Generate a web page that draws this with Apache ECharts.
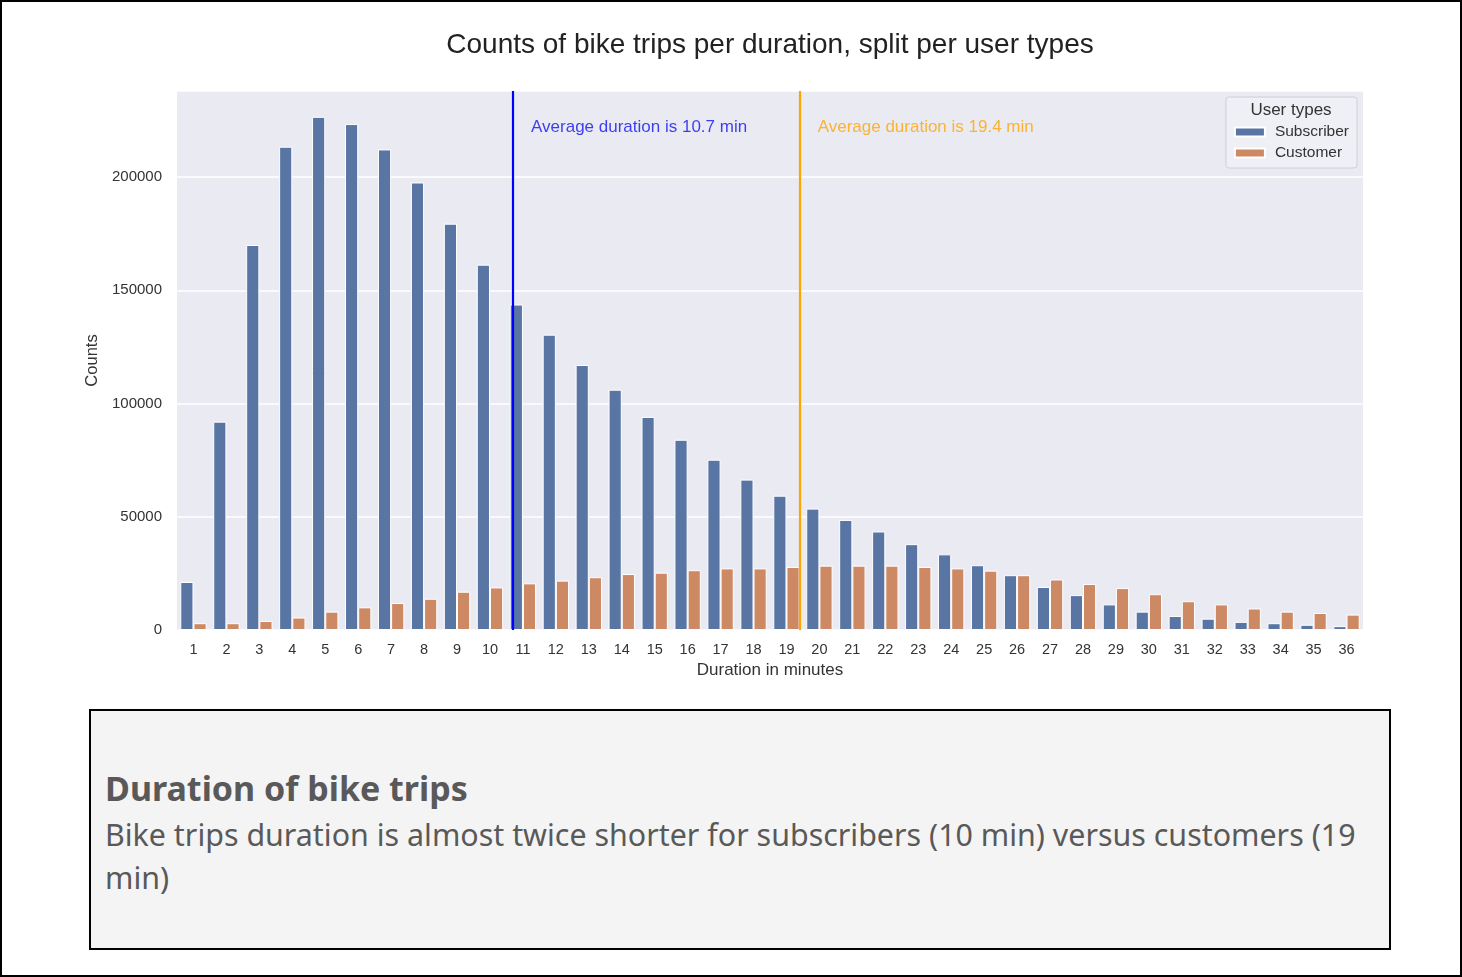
<!DOCTYPE html>
<html>
<head>
<meta charset="utf-8">
<script src="https://cdn.jsdelivr.net/npm/echarts@6/dist/echarts.min.js"></script>
<style>
  html, body { margin: 0; padding: 0; background: #fff; }
  #frame { position: absolute; left: 0; top: 0; width: 1458px; height: 973px; border: 2px solid #000; }
  #chart { position: absolute; left: 0; top: 0; width: 1462px; height: 977px; }
  #panel { position: absolute; left: 89px; top: 709px; width: 1298px; height: 237px; background: #f4f4f4; border: 2px solid #000; box-sizing: content-box; }
  #panel .h { position: absolute; left: 14px; top: 53px; font-family: "Noto Sans", "Open Sans", sans-serif; font-weight: bold; font-size: 34px; color: #595959; line-height: 48px; white-space: nowrap; }
  #panel .b { position: absolute; left: 14px; top: 102px; font-family: "Noto Sans", "Open Sans", sans-serif; font-size: 30.4px; color: #595959; line-height: 43px; white-space: nowrap; }
</style>
</head>
<body>
<div id="chart"></div>
<div id="frame"></div>
<div id="panel">
  <div class="h">Duration of bike trips</div>
  <div class="b">Bike trips duration is almost twice shorter for subscribers (10 min) versus customers (19<br>min)</div>
</div>
<script>
const durations = ['1','2','3','4','5','6','7','8','9','10','11','12','13','14','15','16','17','18','19','20','21','22','23','24','25','26','27','28','29','30','31','32','33','34','35','36'];
const subscriber = [21200, 92000, 170000, 213400, 226600, 223400, 212200, 197600, 179400, 161300, 143700, 130400, 117000, 106100, 94100, 84000, 75200, 66400, 59300, 53600, 48600, 43500, 37900, 33400, 28600, 24200, 19000, 15400, 11300, 8100, 6200, 5000, 3600, 3000, 2300, 1700];
const customer = [3000, 3000, 4000, 5500, 8100, 10000, 11900, 13800, 16900, 18800, 20600, 21800, 23300, 24700, 25300, 26400, 27200, 27200, 27800, 28400, 28400, 28400, 27800, 27200, 26200, 24200, 22300, 20300, 18500, 15800, 12700, 11300, 9500, 8100, 7500, 6800];
const avgSubscriber = 10.7;
const avgCustomer = 19.4;
const yTicks = [0, 50000, 100000, 150000, 200000];

const FONT = '"Liberation Sans", Arial, sans-serif';
const chart = echarts.init(document.getElementById('chart'));
chart.setOption({
  backgroundColor: 'transparent',
  animation: false,
  textStyle: { fontFamily: FONT },
  grid: { left: 177, right: 99, top: 91, bottom: 347, show: true, backgroundColor: '#eaeaf2', borderWidth: 0 },
  graphic: [
    { type: 'text', x: 770, y: 45, style: { text: 'Counts of bike trips per duration, split per user types', font: '28px ' + FONT, fill: '#222', textAlign: 'center', textVerticalAlign: 'middle' } },
    { type: 'text', x: 1291, y: 110, z: 100, style: { text: 'User types', font: '17px ' + FONT, fill: '#333', textAlign: 'center', textVerticalAlign: 'middle' } }
  ],
  legend: {
    data: ['Subscriber', 'Customer'],
    orient: 'vertical',
    right: 105,
    top: 97,
    padding: [27, 8, 7, 8],
    itemGap: 5,
    itemWidth: 30,
    itemHeight: 9,
    icon: 'rect',
    backgroundColor: 'rgba(240,240,246,0.9)',
    borderColor: '#cfcfd6',
    borderWidth: 1,
    borderRadius: 3,
    textStyle: { fontSize: 15.5, color: '#333', fontFamily: FONT, padding: [0, 0, 0, 5] }
  },
  xAxis: [
    {
      type: 'category',
      data: durations,
      axisLine: { show: false },
      axisTick: { show: false },
      axisLabel: { fontSize: 14.5, color: '#333', margin: 12 },
      name: 'Duration in minutes',
      nameLocation: 'middle',
      nameGap: 31,
      nameTextStyle: { fontSize: 17, color: '#333' }
    },
    { type: 'value', min: 0.5, max: 36.5, show: false }
  ],
  yAxis: {
    type: 'value',
    min: 0,
    max: 238000,
    interval: 50000,
    axisLine: { show: false },
    axisTick: { show: false },
    splitLine: { lineStyle: { color: '#ffffff', width: 1.5 } },
    axisLabel: { fontSize: 15, color: '#333', margin: 15, formatter: v => yTicks.indexOf(v) >= 0 ? String(v) : '' },
    name: 'Counts',
    nameLocation: 'middle',
    nameGap: 68,
    nameTextStyle: { fontSize: 16.5, color: '#333' }
  },
  series: [
    {
      name: 'Subscriber', type: 'bar', data: subscriber,
      barGap: '0%', barCategoryGap: '20%',
      itemStyle: { color: '#5875a4', borderColor: '#ffffff', borderWidth: 1 }
    },
    {
      name: 'Customer', type: 'bar', data: customer,
      itemStyle: { color: '#cc8963', borderColor: '#ffffff', borderWidth: 1 }
    },
    {
      name: 'avg', type: 'scatter', xAxisIndex: 1, yAxisIndex: 0, symbolSize: 0, silent: true,
      data: [[avgSubscriber, 222000]],
      label: { show: true, position: 'right', distance: 18, formatter: 'Average duration is ' + avgSubscriber + ' min', color: '#1010f0', fontSize: 17, fontFamily: FONT },
      markLine: { silent: true, symbol: 'none', label: { show: false }, lineStyle: { color: '#0000ff', width: 2.2, type: 'solid' }, data: [{ xAxis: avgSubscriber }] }
    },
    {
      name: 'avg2', type: 'scatter', xAxisIndex: 1, yAxisIndex: 0, symbolSize: 0, silent: true,
      data: [[avgCustomer, 222000]],
      label: { show: true, position: 'right', distance: 18, formatter: 'Average duration is ' + avgCustomer + ' min', color: '#ffa500', fontSize: 17, fontFamily: FONT },
      markLine: { silent: true, symbol: 'none', label: { show: false }, lineStyle: { color: '#ffa500', width: 2.2, type: 'solid' }, data: [{ xAxis: avgCustomer }] }
    }
  ]
});
</script>
</body>
</html>
